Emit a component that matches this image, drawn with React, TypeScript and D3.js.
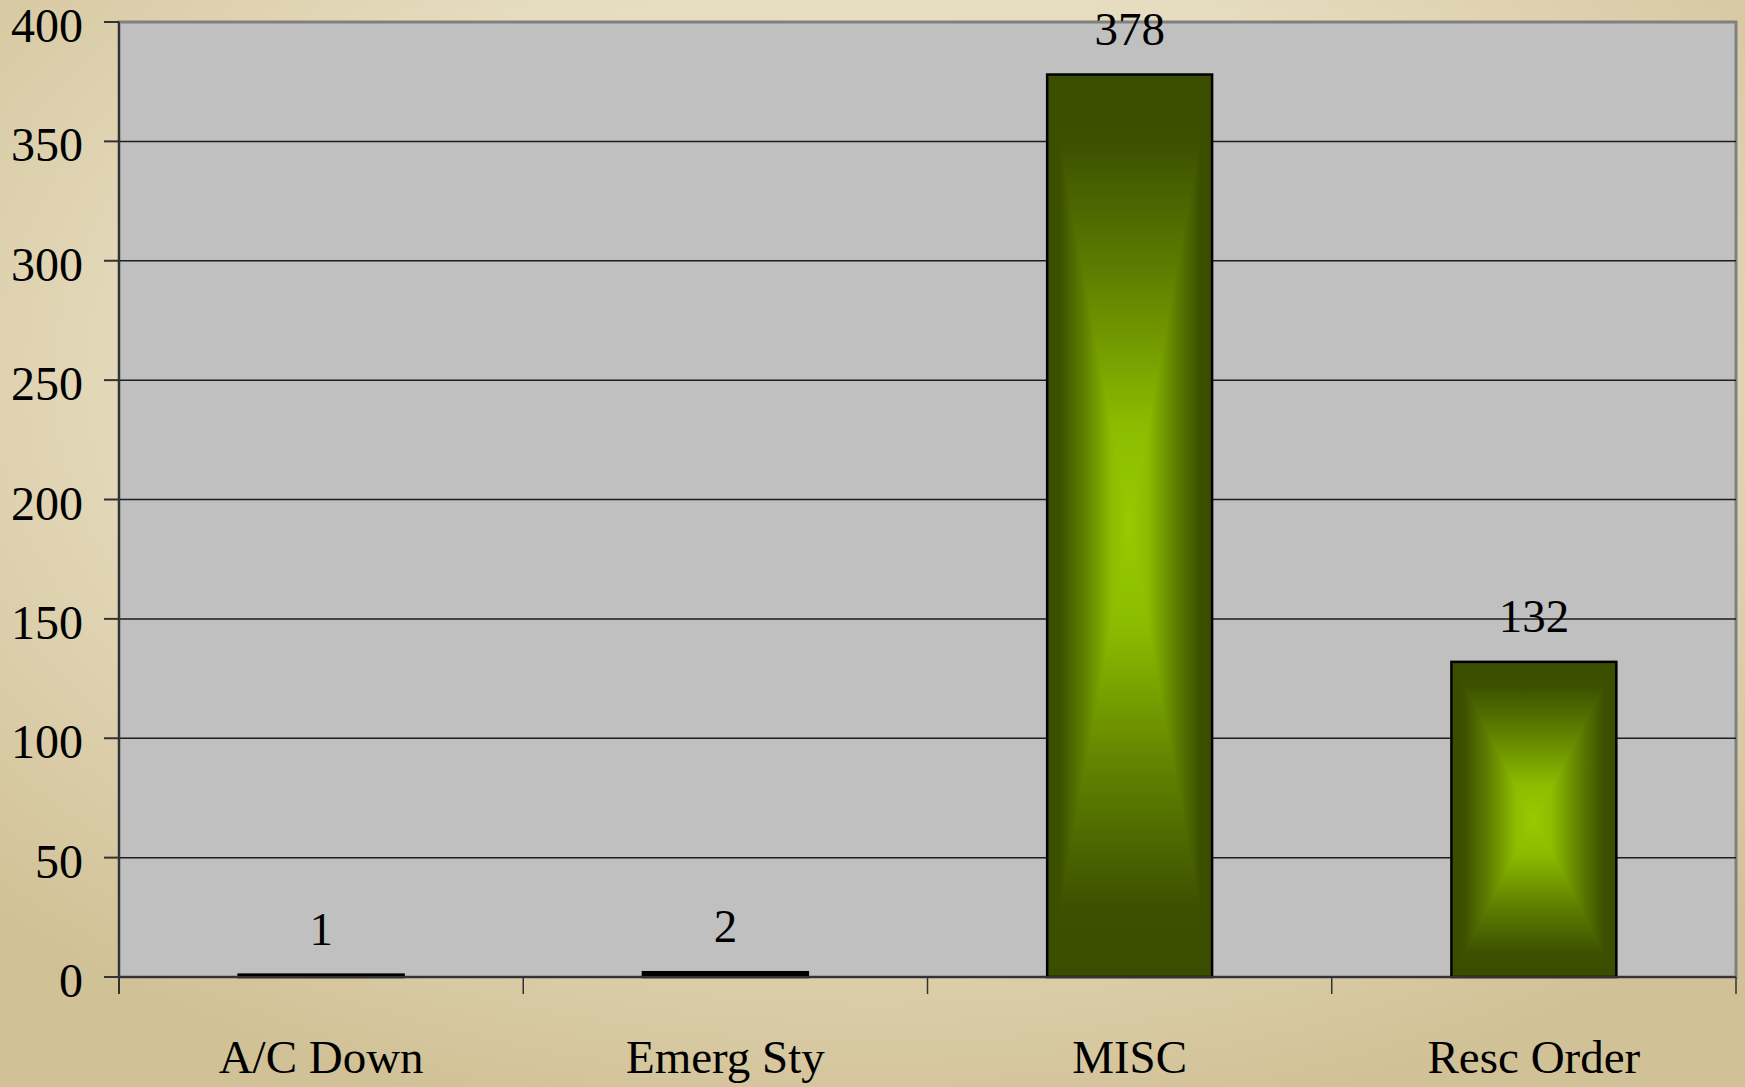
import React from "react";
import * as d3 from "d3";

const categories = ["A/C Down", "Emerg Sty", "MISC", "Resc Order"];
const values = [1, 2, 378, 132];
const yTicks = [0, 50, 100, 150, 200, 250, 300, 350, 400];

const W = 1745;
const H = 1087;
const M = { left: 119, right: 1736, top: 22, bottom: 977 };
const FONT = "'Liberation Serif', 'DejaVu Serif', serif";

// gradient profile from edge (0) to centre (1)
const profile: [number, string][] = [
  [0, "#3a4d00"],
  [0.15, "#3c5000"],
  [0.45, "#5e8000"],
  [0.78, "#8cbc00"],
  [1, "#98ca00"],
];

export default function App() {
  const y = d3.scaleLinear().domain([0, 400]).range([M.bottom, M.top]);
  const xCat = d3.scaleBand<string>().domain(categories).range([M.left, M.right]).padding(0);
  const xBar = d3
    .scaleBand<string>()
    .domain(categories)
    .range([M.left, M.right])
    .paddingInner(0.592)
    .paddingOuter(0.296);

  const boundaries = categories.map((c) => xCat(c) as number).concat([M.right]);

  const hStops = profile
    .map(([o, c]) => [o / 2, c] as [number, string])
    .concat(
      profile
        .slice(0, -1)
        .reverse()
        .map(([o, c]) => [1 - o / 2, c] as [number, string])
    );

  return (
    <svg
      width={W}
      height={H}
      style={{ position: "absolute", left: 0, top: 0, display: "block" }}
      fontFamily={FONT}
    >
      <defs>
        <radialGradient id="bg" cx="50%" cy="35%" r="70%">
          <stop offset="0%" stopColor="#eee8d0" />
          <stop offset="55%" stopColor="#e6dcbf" />
          <stop offset="100%" stopColor="#d1c196" />
        </radialGradient>
        <linearGradient id="gH" x1={0} y1={0} x2={1} y2={0}>
          {hStops.map(([o, c], i) => (
            <stop key={i} offset={`${o * 100}%`} stopColor={c} />
          ))}
        </linearGradient>
        <linearGradient id="gTop" x1={0} y1={0} x2={0} y2={1}>
          {profile.map(([o, c], i) => (
            <stop key={i} offset={`${o * 100}%`} stopColor={c} />
          ))}
        </linearGradient>
        <linearGradient id="gBot" x1={0} y1={1} x2={0} y2={0}>
          {profile.map(([o, c], i) => (
            <stop key={i} offset={`${o * 100}%`} stopColor={c} />
          ))}
        </linearGradient>
      </defs>
      <rect x={0} y={0} width={W} height={H} fill="url(#bg)" />

      {/* plot area */}
      <rect
        x={M.left}
        y={M.top}
        width={M.right - M.left}
        height={M.bottom - M.top}
        fill="#c0c0c0"
        stroke="#808080"
        strokeWidth={3}
      />

      {/* gridlines */}
      {yTicks
        .filter((t) => t > 0 && t < 400)
        .map((t) => (
          <line key={t} x1={M.left} x2={M.right} y1={y(t)} y2={y(t)} stroke="#1e1e1e" strokeWidth={1.5} />
        ))}

      {/* bars */}
      {categories.map((c, i) => {
        const x0 = xBar(c) as number;
        const bw = xBar.bandwidth();
        const y0 = y(values[i]);
        const y1 = y(0);
        const cx = x0 + bw / 2;
        const cy = (y0 + y1) / 2;
        const x1 = x0 + bw;
        const tiny = y1 - y0 < 8;
        return (
          <g key={c}>
            {tiny ? (
              <rect x={x0} y={y0} width={bw} height={y1 - y0} fill="#000" />
            ) : (
              <>
                <rect x={x0} y={y0} width={bw} height={y1 - y0} fill="url(#gH)" />
                <polygon points={`${x0},${y0} ${x1},${y0} ${cx},${cy}`} fill="url(#gTop)" />
                <polygon points={`${x0},${y1} ${x1},${y1} ${cx},${cy}`} fill="url(#gBot)" />
              </>
            )}
            <rect x={x0} y={y0} width={bw} height={y1 - y0} fill="none" stroke="#000" strokeWidth={2.5} />
            <text x={cx} y={y0 - 30} textAnchor="middle" fontSize={47} fill="#000">
              {values[i]}
            </text>
          </g>
        );
      })}

      {/* axes */}
      <line x1={M.left} x2={M.left} y1={M.top} y2={M.bottom + 17} stroke="#333" strokeWidth={2} />
      <line x1={M.left} x2={M.right} y1={M.bottom} y2={M.bottom} stroke="#333" strokeWidth={2} />
      {yTicks.map((t) => (
        <g key={t}>
          <line x1={M.left - 15} x2={M.left} y1={y(t)} y2={y(t)} stroke="#333" strokeWidth={2} />
          <text x={83} y={y(t) + 20} textAnchor="end" fontSize={48} fill="#000">
            {t}
          </text>
        </g>
      ))}
      {boundaries.map((b, i) => (
        <line key={i} x1={b} x2={b} y1={M.bottom} y2={M.bottom + 17} stroke="#333" strokeWidth={1.5} />
      ))}
      {categories.map((c) => (
        <text
          key={c}
          x={(xCat(c) as number) + xCat.bandwidth() / 2}
          y={1073}
          textAnchor="middle"
          fontSize={47}
          fill="#000"
        >
          {c}
        </text>
      ))}
    </svg>
  );
}
